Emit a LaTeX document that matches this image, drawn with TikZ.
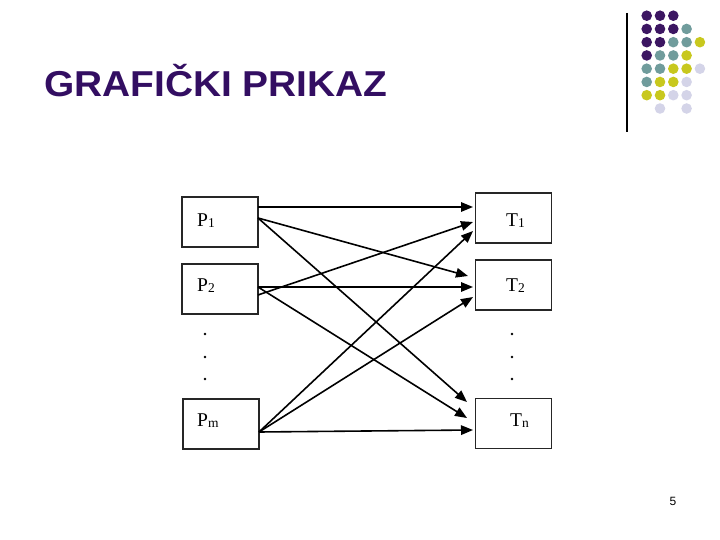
\documentclass[tikz,border=0pt]{standalone}
\usepackage{fontspec}
\setmainfont{Liberation Serif}
\newfontfamily\titlefont{Liberation Sans}
\usetikzlibrary{arrows.meta}
\definecolor{titlecol}{RGB}{51,14,98}
\definecolor{dotP}{RGB}{60,22,98}
\definecolor{dotT}{RGB}{112,156,156}
\definecolor{dotY}{RGB}{200,200,30}
\definecolor{dotL}{RGB}{212,212,232}
\newcommand{\sbs}[1]{\raisebox{-1.5pt}{\fontsize{13.5}{13.5}\selectfont #1}}
\tikzset{
  boxst/.style={draw=black!85, line width=1.4pt, minimum width=76pt, minimum height=50pt, inner sep=0pt},
  lbl/.style={anchor=base west, inner sep=0pt, font=\fontsize{19.5}{19.5}\selectfont},
  arr/.style={line width=1.6pt, -{Triangle[length=12pt,width=9.5pt]}},
  smalldot/.style={fill=black, draw=none, circle, inner sep=0pt, minimum size=2.6pt},
}
\begin{document}
\begin{tikzpicture}[x=1pt,y=-1pt]
\useasboundingbox (0,0) rectangle (720,540);
% title
\node[anchor=base west, inner sep=0pt, text=titlecol, xscale=1.08, font=\titlefont\bfseries\fontsize{36}{36}\selectfont] (title) at (44,97) {GRAFIČKI PRIKAZ};
% logo
\draw[line width=1.5pt] (627,13) coordinate (lt) -- (627,132) coordinate (lb);
\foreach \r/\row in {0/{P,P,P},1/{P,P,P,T},2/{P,P,T,T,Y},3/{P,T,T,Y},4/{T,T,Y,Y,L},5/{T,Y,Y,L},6/{Y,Y,L,L}}{
  \foreach \c [count=\i from 0] in \row {
    \fill[dot\c] (646.7+13.3*\i, 15.7+13.25*\r) circle (5.3);
  }
}
\fill[dotL] (660,108.5) circle (5.3);
\fill[dotL] (686.6,108.5) circle (5.3);
% boxes
\node[boxst] (P1) at (220,222) {};
\node[boxst] (P2) at (220,289) {};
\node[boxst] (Pm) at (221,424) {};
\node[boxst] (T1) at (513.5,218) {};
\node[boxst] (T2) at (513.5,285) {};
\node[boxst] (Tn) at (513.5,423.5) {};
% labels
\node[lbl] (lP1) at (197,226) {P\sbs{1}};
\node[lbl] (lP2) at (197,291) {P\sbs{2}};
\node[lbl] (lPm) at (197,426) {P\sbs{m}};
\node[lbl] (lT1) at (506,226) {T\sbs{1}};
\node[lbl] (lT2) at (506,291) {T\sbs{2}};
\node[lbl] (lTn) at (510,426) {T\sbs{n}};
% dots
\foreach \y [count=\k] in {334,357,379}{
  \node[smalldot] (dl\k) at (205,\y) {};
  \node[smalldot] (dr\k) at (512,\y) {};
}
% ports
\coordinate (p1a) at (258,207);
\coordinate (p1b) at (258,218);
\coordinate (p2a) at (258,287);
\coordinate (p2b) at (258,295);
\coordinate (pm) at (259,432);
\coordinate (t1a) at (473,207);
\coordinate (t1b) at (473,222);
\coordinate (t1c) at (473,231);
\coordinate (t2a) at (468,276);
\coordinate (t2b) at (473,287);
\coordinate (t2c) at (473,297);
\coordinate (tna) at (467,402);
\coordinate (tnb) at (467,418);
\coordinate (tnc) at (473,430);
% arrows
\draw[arr] (p1a) -- (t1a);
\draw[arr] (p1b) -- (t2a);
\draw[arr] (p1b) -- (tna);
\draw[arr] (p2b) -- (t1b);
\draw[arr] (p2a) -- (t2b);
\draw[arr] (p2a) -- (tnb);
\draw[arr] (pm) -- (t1c);
\draw[arr] (pm) -- (t2c);
\draw[arr] (pm) -- (tnc);
% page number
\node[inner sep=0pt, font=\titlefont\fontsize{12}{12}\selectfont] (pg) at (673,501.5) {5};
\end{tikzpicture}
\end{document}
